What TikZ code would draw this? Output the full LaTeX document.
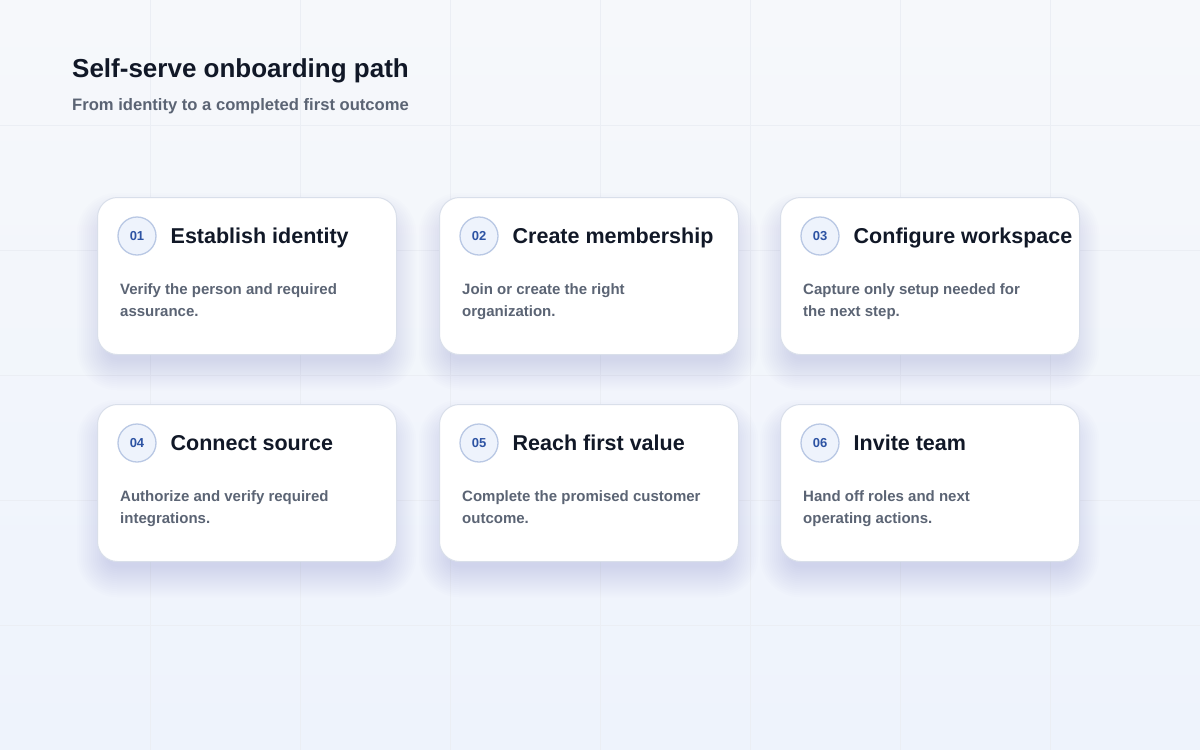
\documentclass[tikz,border=0pt]{standalone}
\usepackage{fontspec}
\setmainfont{Liberation Sans}
\definecolor{bgA}{HTML}{F6F8FB}
\definecolor{bgB}{HTML}{EEF3FC}
\definecolor{gridcol}{HTML}{EBEEF4}
\definecolor{cardline}{HTML}{D9DFEA}
\definecolor{shadowcol}{HTML}{8595BD}
\definecolor{circfill}{HTML}{EEF3FC}
\definecolor{circline}{HTML}{B9C8E4}
\definecolor{numblue}{HTML}{2D53A3}
\definecolor{ink}{HTML}{111827}
\definecolor{muted}{HTML}{5B6474}
\newcommand\stepcard[7]{%
  \foreach \i in {0,...,15}{%
    \pgfmathsetmacro\e{2*\i-10}%
    \pgfmathsetmacro\r{20+\e}%
    \fill[shadowcol, opacity=0.015, rounded corners=\r pt]
      ({#2-\e},{#3+16-\e}) rectangle ({#2+299+\e},{#3+173+\e});
  }
  \node[cardbox, anchor=north west] (#1) at (#2,#3) {};
  \node[numcircle] (#1n) at ({#2+40},{#3+39}) {#4};
  \node[titletext] (#1t) at ({#2+73.5},{#3+46}) {#5};
  \node[desctext] (#1a) at ({#2+23},{#3+97}) {#6};
  \node[desctext] (#1b) at ({#2+23},{#3+119}) {#7};
}
\begin{document}
\begin{tikzpicture}[x=1pt,y=-1pt,
  cardbox/.style={draw=cardline, line width=1pt, fill=white, rounded corners=20pt,
    minimum width=299pt, minimum height=157pt, inner sep=0pt},
  numcircle/.style={circle, draw=circline, fill=circfill, line width=1.3pt,
    minimum size=38pt, inner sep=0pt, text=numblue,
    font=\fontsize{13}{15}\selectfont\bfseries},
  titletext/.style={anchor=base west, inner sep=0pt, text=ink,
    font=\fontsize{21.5}{26}\selectfont\bfseries},
  desctext/.style={anchor=base west, inner sep=0pt, text=muted,
    font=\fontsize{15}{22}\selectfont\bfseries},
  gridline/.style={draw=gridcol, line width=1pt}]
\useasboundingbox (0,0) rectangle (1200,750);
\shade[top color=bgA, bottom color=bgB] (0,0) rectangle (1200,750);
\foreach \gx in {150,300,...,1050} \draw[gridline] (\gx,0) -- (\gx,750);
\foreach \gy in {125,250,...,625} \draw[gridline] (0,\gy) -- (1200,\gy);
\node[anchor=base west, inner sep=0pt, text=ink, font=\fontsize{26}{30}\selectfont\bfseries]
  (title) at (72,77) {Self-serve onboarding path};
\node[anchor=base west, inner sep=0pt, text=muted, font=\fontsize{16.6}{20}\selectfont\bfseries]
  (subtitle) at (72,110) {From identity to a completed first outcome};
\stepcard{c1}{97}{197}{01}{Establish identity}{Verify the person and required}{assurance.}
\stepcard{c2}{439}{197}{02}{Create membership}{Join or create the right}{organization.}
\stepcard{c3}{780}{197}{03}{Configure workspace}{Capture only setup needed for}{the next step.}
\stepcard{c4}{97}{404}{04}{Connect source}{Authorize and verify required}{integrations.}
\stepcard{c5}{439}{404}{05}{Reach first value}{Complete the promised customer}{outcome.}
\stepcard{c6}{780}{404}{06}{Invite team}{Hand off roles and next}{operating actions.}
\end{tikzpicture}
\end{document}
